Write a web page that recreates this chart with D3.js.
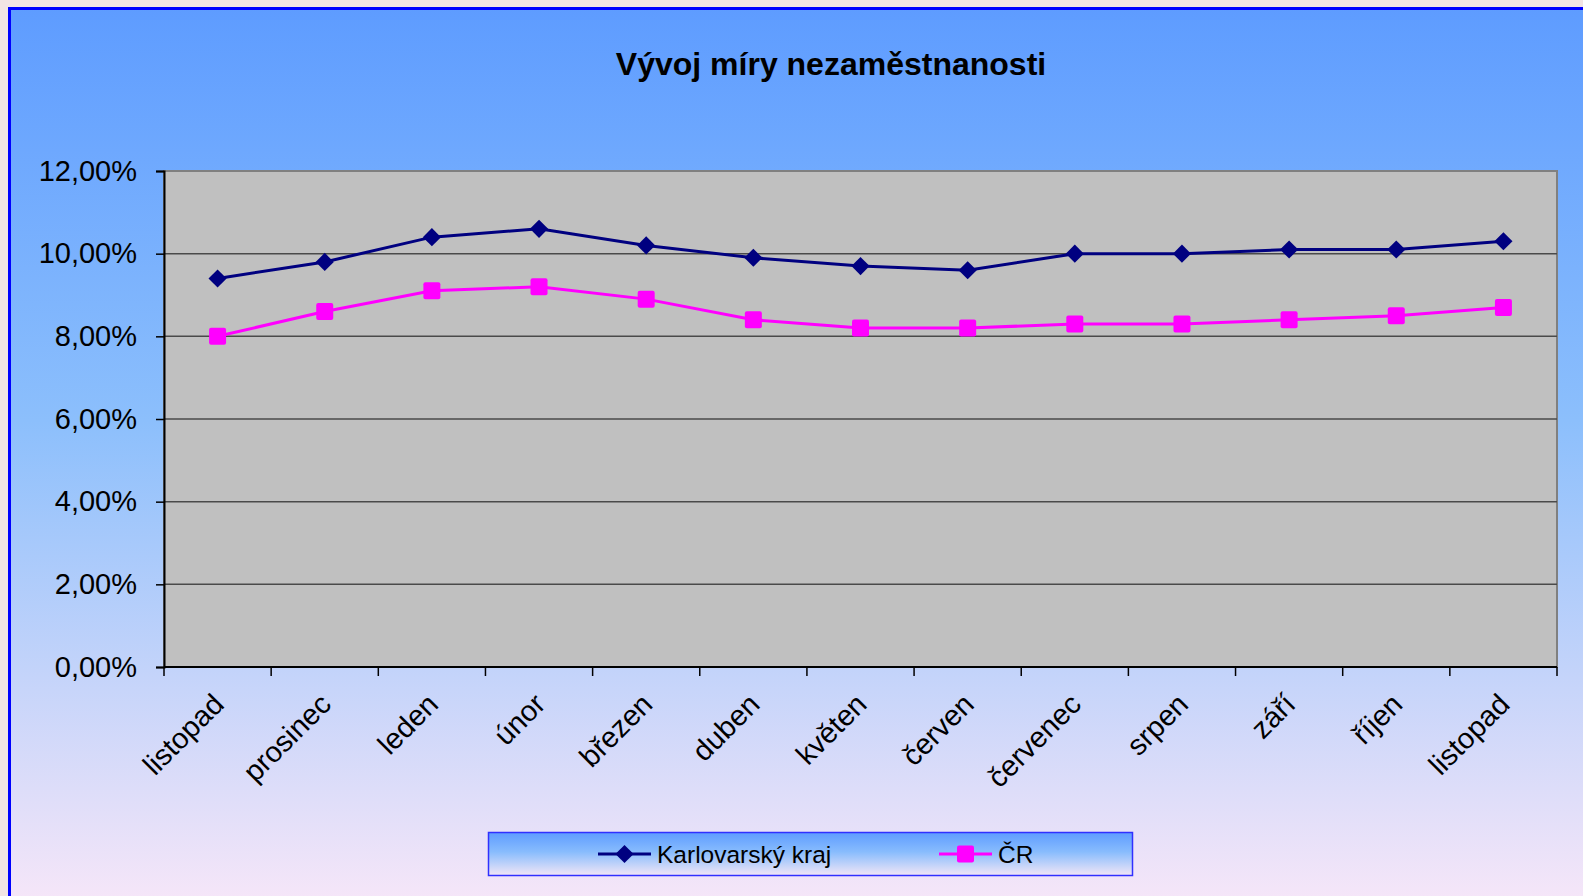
<!DOCTYPE html>
<html>
<head>
<meta charset="utf-8">
<script src="https://cdn.jsdelivr.net/npm/d3@7"></script>
<style>
  html, body { margin: 0; padding: 0; background: #f2e4e4; overflow: hidden; }
  svg { display: block; font-family: "Liberation Sans", Arial, sans-serif; }
</style>
</head>
<body>
<div id="chart"></div>
<script>
// categories (months)
const months = ["listopad", "prosinec", "leden", "únor", "březen", "duben", "květen",
  "červen", "červenec", "srpen", "září", "říjen", "listopad"];

// unemployment rate, %
const karlovarsky = [9.4, 9.8, 10.4, 10.6, 10.2, 9.9, 9.7, 9.6, 10.0, 10.0, 10.1, 10.1, 10.3];
const cr = [8.0, 8.6, 9.1, 9.2, 8.9, 8.4, 8.2, 8.2, 8.3, 8.3, 8.4, 8.5, 8.7];

const yTicks = [0, 2, 4, 6, 8, 10, 12];

const seriesNames = ["Karlovarský kraj", "ČR"];

const width = 1583, height = 896;
const margin = {top: 171, right: 26, bottom: 229, left: 164};

const svg = d3.select("#chart").append("svg")
    .attr("width", width)
    .attr("height", height);

const defs = svg.append("defs");

// chart area background gradient
const bg = defs.append("linearGradient")
    .attr("id", "bg")
    .attr("x1", 0).attr("y1", 0).attr("x2", 0).attr("y2", 1);
bg.append("stop").attr("offset", "0%").attr("stop-color", "#5e9cff");
bg.append("stop").attr("offset", "45%").attr("stop-color", "#8cbffc");
bg.append("stop").attr("offset", "100%").attr("stop-color", "#fbe8f8");

const lg = defs.append("linearGradient")
    .attr("id", "lg")
    .attr("x1", 0).attr("y1", 0).attr("x2", 0).attr("y2", 1);
lg.append("stop").attr("offset", "0%").attr("stop-color", "#5e9cff");
lg.append("stop").attr("offset", "45%").attr("stop-color", "#88bcfd");
lg.append("stop").attr("offset", "100%").attr("stop-color", "#f2e6f6");

svg.append("rect")
    .attr("x", 9.5).attr("y", 8.5)
    .attr("width", width + 20).attr("height", height + 20)
    .attr("fill", "url(#bg)")
    .attr("stroke", "#0000ff")
    .attr("stroke-width", 3);

// title
svg.append("text")
    .attr("x", 831).attr("y", 75)
    .attr("text-anchor", "middle")
    .attr("font-size", 32)
    .attr("font-weight", "bold")
    .attr("fill", "#000")
    .text("Vývoj míry nezaměstnanosti");

const x = d3.scaleBand()
    .domain(d3.range(months.length))
    .range([margin.left, width - margin.right]);

const y = d3.scaleLinear()
    .domain([0, 12])
    .range([height - margin.bottom, margin.top]);

// plot area
svg.append("rect")
    .attr("x", margin.left).attr("y", margin.top)
    .attr("width", width - margin.left - margin.right)
    .attr("height", height - margin.top - margin.bottom)
    .attr("fill", "#c0c0c0")
    .attr("stroke", "#808080")
    .attr("stroke-width", 2);

// gridlines
svg.append("g")
  .selectAll("line")
  .data(yTicks.filter(d => d > 0 && d < 12))
  .join("line")
    .attr("x1", margin.left).attr("x2", width - margin.right)
    .attr("y1", d => y(d)).attr("y2", d => y(d))
    .attr("stroke", "#4a4a4a")
    .attr("stroke-width", 1.5);

// y axis
const yAxis = svg.append("g")
    .attr("transform", `translate(${margin.left},0)`)
    .call(d3.axisLeft(y).tickValues(yTicks).tickSize(8).tickPadding(19)
      .tickFormat(d => d.toFixed(2).replace(".", ",") + "%"));
yAxis.select(".domain").attr("stroke", "#000").attr("stroke-width", 2);
yAxis.selectAll(".tick line").attr("stroke", "#000").attr("stroke-width", 1.5);
yAxis.selectAll(".tick text")
    .attr("font-size", 29)
    .attr("font-family", "Liberation Sans, Arial, sans-serif")
    .attr("fill", "#000");

// x axis: ticks on band boundaries
const xBase = height - margin.bottom;
const bounds = d3.range(months.length + 1).map(i => margin.left + i * x.step());
svg.append("line")
    .attr("x1", margin.left).attr("x2", width - margin.right)
    .attr("y1", xBase).attr("y2", xBase)
    .attr("stroke", "#000").attr("stroke-width", 2);
svg.append("g")
  .selectAll("line")
  .data(bounds)
  .join("line")
    .attr("x1", d => d).attr("x2", d => d)
    .attr("y1", xBase).attr("y2", xBase + 9)
    .attr("stroke", "#000").attr("stroke-width", 1.5);

svg.append("g")
  .selectAll("text")
  .data(months)
  .join("text")
    .attr("transform", (d, i) => `translate(${x(i) + x.bandwidth() / 2 + 8},${xBase + 39}) rotate(-45)`)
    .attr("text-anchor", "end")
    .attr("font-size", 29)
    .attr("fill", "#000")
    .text(d => d);

const cx = i => x(i) + x.bandwidth() / 2;
const line = d3.line().x((d, i) => cx(i)).y(d => y(d));

const diamond = d3.symbol().type(d3.symbolDiamond2).size(210);

// Karlovarský kraj
svg.append("path")
    .datum(karlovarsky)
    .attr("d", line)
    .attr("fill", "none")
    .attr("stroke", "#000080")
    .attr("stroke-width", 3);
svg.append("g")
  .selectAll("path")
  .data(karlovarsky)
  .join("path")
    .attr("transform", (d, i) => `translate(${cx(i)},${y(d)})`)
    .attr("d", diamond)
    .attr("fill", "#000080");

// ČR
svg.append("path")
    .datum(cr)
    .attr("d", line)
    .attr("fill", "none")
    .attr("stroke", "#ff00ff")
    .attr("stroke-width", 3);
svg.append("g")
  .selectAll("rect")
  .data(cr)
  .join("rect")
    .attr("x", (d, i) => cx(i) - 8.5)
    .attr("y", d => y(d) - 8.5)
    .attr("width", 17).attr("height", 17)
    .attr("rx", 2)
    .attr("fill", "#ff00ff");

// legend
const legend = svg.append("g");
legend.append("rect")
    .attr("x", 488.5).attr("y", 832.5)
    .attr("width", 644).attr("height", 43)
    .attr("fill", "url(#lg)")
    .attr("stroke", "#3030ff")
    .attr("stroke-width", 1.5);

const legendItems = [
  {name: seriesNames[0], color: "#000080", x0: 598, sym: "diamond"},
  {name: seriesNames[1], color: "#ff00ff", x0: 939, sym: "square"}
];
const ly = 854;
legendItems.forEach(it => {
  legend.append("line")
      .attr("x1", it.x0).attr("x2", it.x0 + 53)
      .attr("y1", ly).attr("y2", ly)
      .attr("stroke", it.color).attr("stroke-width", 3);
  if (it.sym === "diamond") {
    legend.append("path")
        .attr("transform", `translate(${it.x0 + 26.5},${ly})`)
        .attr("d", diamond)
        .attr("fill", it.color);
  } else {
    legend.append("rect")
        .attr("x", it.x0 + 26.5 - 8.5).attr("y", ly - 8.5)
        .attr("width", 17).attr("height", 17).attr("rx", 2)
        .attr("fill", it.color);
  }
  legend.append("text")
      .attr("x", it.x0 + 59).attr("y", ly)
      .attr("dy", "0.36em")
      .attr("font-size", 24.5)
      .attr("fill", "#000")
      .text(it.name);
});
</script>
</body>
</html>
